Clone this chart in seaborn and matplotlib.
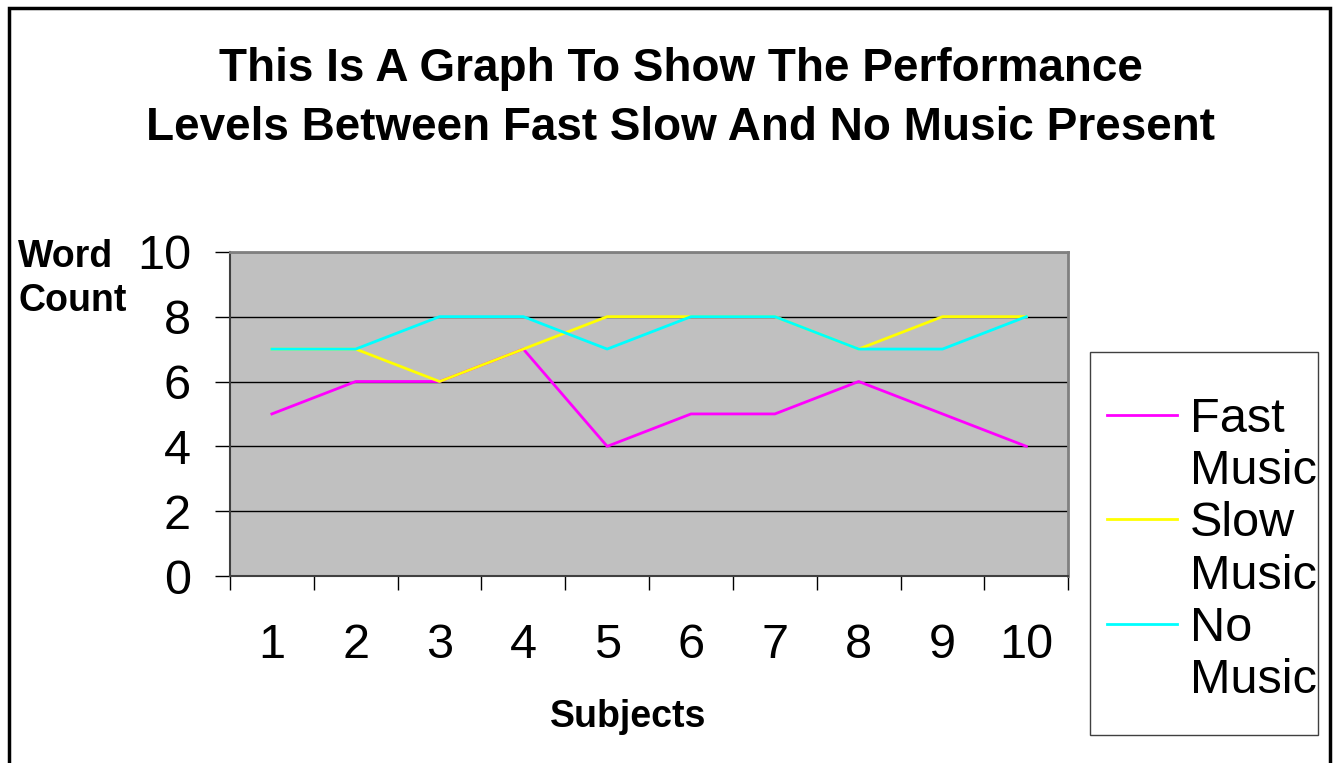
import numpy as np
import pandas as pd
import matplotlib
matplotlib.use('Agg')
import matplotlib.pyplot as plt
import seaborn as sns
from matplotlib.lines import Line2D
from matplotlib.patches import Rectangle

# data
subjects = [1, 2, 3, 4, 5, 6, 7, 8, 9, 10]
fast_music = [5, 6, 6, 7, 4, 5, 5, 6, 5, 4]
slow_music = [7, 7, 6, 7, 8, 8, 8, 7, 8, 8]
no_music = [7, 7, 8, 8, 7, 8, 8, 7, 7, 8]
groups = ['Fast Music', 'Slow Music', 'No Music']
colours = ['#FF00FF', '#FFFF00', '#00FFFF']
y_ticks = [0, 2, 4, 6, 8, 10]

df = pd.DataFrame({
    'Subject': subjects * 3,
    'Words': fast_music + slow_music + no_music,
    'Group': np.repeat(groups, len(subjects)),
})

plt.rcParams['font.family'] = ['Liberation Sans', 'DejaVu Sans']

fig = plt.figure(figsize=(13.37, 7.63), dpi=100)
ax = fig.add_axes([0.172, 0.245, 0.627, 0.425])
ax.set_facecolor('#C0C0C0')
ax.set_axisbelow(True)
ax.yaxis.grid(True, color='black', lw=1)

sns.lineplot(data=df, x='Subject', y='Words', hue='Group', hue_order=groups,
             palette=colours, lw=2, ax=ax, legend=False)

ax.set_xlim(0.5, 10.5)
ax.set_ylim(0, 10)
ax.set_xticks(subjects)
ax.set_xticks(np.arange(0.5, 11, 1), minor=True)
ax.tick_params(axis='x', which='major', length=0, pad=34, labelsize=35)
ax.tick_params(axis='x', which='minor', length=10, width=1, color='black')
ax.set_yticks(y_ticks)
ax.tick_params(axis='y', length=11, width=1, color='black', labelsize=35, pad=17)
ax.set_xlabel('')
ax.set_ylabel('')

for side in ['top', 'right']:
    ax.spines[side].set_color('#808080')
    ax.spines[side].set_linewidth(2)
for side in ['left', 'bottom']:
    ax.spines[side].set_color('#404040')
    ax.spines[side].set_linewidth(1.5)

fig.text(0.509, 0.871, 'This Is A Graph To Show The Performance\nLevels Between Fast Slow And No Music Present',
         ha='center', va='center', fontsize=33, fontweight='bold', linespacing=1.42)
fig.text(0.0135, 0.634, 'Word\nCount', ha='left', va='center', fontsize=27,
         fontweight='bold', linespacing=1.3)
fig.text(0.47, 0.06, 'Subjects', ha='center', va='center', fontsize=27, fontweight='bold')

# legend: each name is split over two rows, handle on the first row
lines = ax.get_lines()
blank = Line2D([], [], color='none')
handles = [lines[0], blank, lines[1], blank, lines[2], blank]
labels = ['Fast', 'Music', 'Slow', 'Music', 'No', 'Music']
fig.legend(handles, labels, loc='upper left', bbox_to_anchor=(0.828, 0.480),
           frameon=False, fontsize=35, handlelength=1.44, handletextpad=0.27,
           labelspacing=0.15, borderpad=0, borderaxespad=0)
fig.patches.append(Rectangle((0.8153, 0.0367), 0.1705, 0.502, transform=fig.transFigure,
                             fill=False, ec='#404040', lw=1))

# outer frame
fig.patches.append(Rectangle((0.0067, -0.02), 0.988, 1.0095, transform=fig.transFigure,
                             fill=False, ec='black', lw=2.5))

fig.savefig('out.png', dpi=100)
